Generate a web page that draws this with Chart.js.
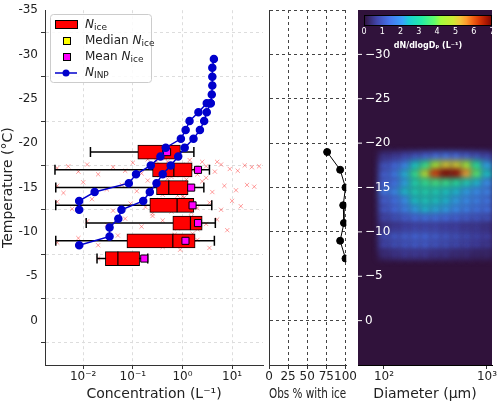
<!DOCTYPE html>
<html>
<head>
<meta charset="utf-8">
<script src="https://cdn.jsdelivr.net/npm/chart.js@4/dist/chart.umd.min.js"></script>
<style>
  body { margin: 0; background: #fff; }
  #wrap { position: relative; width: 500px; height: 403px; }
  canvas { position: absolute; top: 0; }
</style>
</head>
<body>
<div id="wrap">
  <canvas id="concChart" width="269" height="403" style="left:0"></canvas>
  <canvas id="obsChart" width="99" height="403" style="left:259px"></canvas>
  <canvas id="sizeChart" width="152" height="403" style="left:348px"></canvas>
</div>
<script>
// box statistics per temperature level (L^-1)
const boxTemps   = [-19, -17, -15, -13, -11, -9, -7];
const whiskerLow = [0.014, 0.0027, 0.0028, 0.0028, 0.0115, 0.0028, 0.019];
const q1         = [0.126, 0.25, 0.30, 0.22, 0.64, 0.076, 0.028];
const q3         = [0.91, 1.57, 1.30, 1.70, 2.50, 1.80, 0.137];
const whiskerHigh= [1.7, 3.5, 2.7, 3.9, 4.6, 4.4, 0.20];
const medianLine = [0.40, 0.67, 0.53, 0.78, 1.45, 0.64, 0.05];
const medianIce  = [0.26, 0.67, 0.53, 0.78, 1.45, 0.64, 0.05];
const meanIce    = [0.49, 2.06, 1.50, 1.60, 2.06, 1.15, 0.17];

// INP curves
const inpTempA = [-8.5, -9.5, -10.5, -11.5, -12.5, -13.5, -14.5, -15.5, -16.5, -17.5, -18.5, -19.5, -20.5, -21.5, -22.5, -23.5, -24.5, -25.5, -26.5, -27.5, -28.5, -29.5];
const inpConcA = [0.0083, 0.034, 0.034, 0.051, 0.059, 0.162, 0.22, 0.30, 0.40, 0.58, 0.82, 1.11, 1.67, 2.25, 2.74, 3.09, 3.7, 3.9, 4.0, 4.0, 4.0, 4.3];
const inpTempB = [-12.5, -13.5, -14.5, -15.5, -16.5, -17.5, -18.5, -19.5, -20.5, -21.5, -22.5, -23.5, -24.5, -24.5];
const inpConcB = [0.0083, 0.0083, 0.017, 0.083, 0.116, 0.23, 0.36, 0.46, 0.93, 1.16, 1.39, 2.1, 3.09, 3.7];

// individual Nice observations [conc, temp]
const iceObs = [
  [0.003,-17.2],[0.005,-17.4],[0.008,-16.8],[0.012,-17.6],[0.02,-16.5],[0.04,-17.3],[0.07,-16.9],[0.1,-17.8],
  [0.15,-16.6],[0.25,-17.5],[0.35,-16.4],[0.5,-17.9],[0.7,-16.7],[1.0,-17.2],[1.4,-18.1],[2,-16.5],[3,-17.4],
  [4.5,-16.8],[6,-17.6],[9,-17.1],[13,-16.9],[18,-17.5],[25,-17.3],[35,-17.4],[0.6,-16.2],[1.2,-17.6],[2.5,-17.9],
  [0.3,-18.0],[0.4,-17.0],[0.9,-16.4],[1.8,-17.0],[0.2,-18.2],[5,-17.9],[0.45,-18.3],
  [0.003,-15.2],[0.004,-14.4],[0.01,-15.6],[0.03,-14.8],[0.06,-15.3],[0.12,-14.6],[0.2,-15.8],[0.4,-14.2],
  [0.8,-15.5],[1.5,-14.9],[2.5,-15.7],[4,-14.5],[7,-15.2],[12,-14.7],[20,-15.3],[0.5,-16.0],[1.0,-14.0],[3,-16.1],
  [0.7,-14.6],[0.3,-15.4],[1.2,-15.9],[28,-15.1],
  [0.003,-13.4],[0.006,-12.6],[0.015,-13.7],[0.04,-12.4],[0.09,-13.2],[0.18,-12.8],[0.35,-13.6],[0.6,-12.3],
  [1.1,-13.9],[2,-12.7],[3.5,-13.3],[6,-12.5],[10,-13.5],[15,-12.9],[0.8,-14.1],[0.25,-12.1],[0.5,-13.0],[1.5,-12.2],
  [0.012,-11.2],[0.03,-10.8],[0.07,-11.5],[0.15,-10.6],[0.4,-11.3],[0.8,-10.4],[1.5,-11.7],[3,-10.9],[5,-11.4],
  [8,-10.2],[0.25,-11.8],[2,-10.3],[1.0,-11.0],
  [0.003,-8.8],[0.008,-9.3],[0.02,-8.5],[0.05,-9.6],[0.1,-8.9],[0.2,-9.4],[0.4,-8.3],[0.7,-9.7],[1.2,-8.6],
  [2,-9.1],[3.5,-8.2],[0.9,-8.0],[1.6,-9.8],
  [0.02,-7.0],[0.05,-6.8],[0.1,-7.2],[0.17,-6.9]
];

// percentage of observations with ice
const obsTemps = [-19, -17, -15, -13, -11, -9, -7];
const obsPct   = [76, 93, 100, 97, 98, 93, 100];

// size distribution dN/dlogDp, rows = temperatures, cols = log10 diameter bins
const sizeTemps = [-18.5, -17.5, -16.5, -15.5, -14.5, -13.5, -12.5, -11.5, -10.5, -9.5, -8.5, -7.5];
const sizeLogD  = [2.0, 2.1, 2.2, 2.3, 2.4, 2.5, 2.6, 2.7, 2.8, 2.9, 3.0];
const sizeDist = [
  [0.5,0.6,0.8,1.0,1.2,1.4,1.5,1.4,1.2,1.0,0.8],
  [1.0,1.3,1.8,2.5,3.3,4.2,5.0,5.0,4.3,3.2,2.2],
  [1.2,1.6,2.3,3.3,4.6,6.2,6.9,6.8,5.5,3.8,2.5],
  [1.3,1.5,2.2,2.9,3.3,3.5,3.4,3.2,2.8,2.4,2.0],
  [1.6,1.9,2.4,2.8,2.9,2.8,2.6,2.4,2.2,2.0,1.8],
  [1.2,1.5,2.0,2.5,2.7,2.6,2.4,2.2,2.0,1.8,1.6],
  [1.1,1.4,1.8,2.2,2.4,2.3,2.2,2.0,1.8,1.6,1.5],
  [0.8,1.0,1.2,1.4,1.5,1.5,1.4,1.3,1.2,1.1,1.0],
  [0.5,0.6,0.7,0.8,0.8,0.8,0.7,0.7,0.6,0.6,0.5],
  [0.9,1.1,1.2,1.3,1.3,1.2,1.1,1.0,0.9,0.8,0.7],
  [0.8,1.0,1.1,1.2,1.2,1.1,1.0,0.9,0.8,0.7,0.6],
  [0.4,0.5,0.6,0.6,0.6,0.5,0.5,0.4,0.4,0.3,0.3]
];
const colorbarTicks = [0, 1, 2, 3, 4, 5, 6, 7];

const FONT = 'DejaVu Sans';
Chart.defaults.font.family = FONT;
Chart.defaults.color = '#222';
const sup = { '-': '\u207B', '0': '\u2070', '1': '\u00B9', '2': '\u00B2', '3': '\u00B3' };
const pow10Label = v => {
  const e = Math.round(Math.log10(v));
  if (Math.abs(Math.log10(v) - e) > 1e-6) return '';
  return '10' + String(e).split('').map(c => sup[c]).join('');
};
const keepPowers = scale => {
  scale.ticks = scale.ticks.filter(t => Math.abs(Math.log10(t.value) - Math.round(Math.log10(t.value))) < 1e-6);
};

const tempAxis = (extra) => Object.assign({
  type: 'linear', min: -35, max: 5, reverse: true, offset: false,
  afterBuildTicks: s => { s.ticks = [-35, -30, -25, -20, -15, -10, -5, 0, 5].map(v => ({ value: v })); },
  afterFit: s => { s.width = 0; }
}, extra);
const bottomFit = s => { s.height = 38; };

// turbo colormap
const turboStops = [
  [0, [48,18,59]], [0.1, [65,69,171]], [0.2, [70,117,237]], [0.3, [57,162,252]], [0.35, [27,207,212]],
  [0.45, [36,236,166]], [0.55, [97,252,108]], [0.6, [164,252,59]], [0.7, [209,232,52]], [0.75, [243,198,58]],
  [0.8, [254,155,45]], [0.85, [243,99,21]], [0.9, [217,56,6]], [0.95, [177,25,1]], [1, [122,4,3]]
];
function turbo(t) {
  t = Math.max(0, Math.min(1, t));
  for (let i = 1; i < turboStops.length; i++) {
    if (t <= turboStops[i][0]) {
      const [t0, c0] = turboStops[i - 1], [t1, c1] = turboStops[i];
      const f = (t - t0) / (t1 - t0);
      return 'rgb(' + c0.map((c, k) => Math.round(c + (c1[k] - c) * f)).join(',') + ')';
    }
  }
  return 'rgb(122,4,3)';
}

function richText(ctx, parts, x, y) {
  ctx.textBaseline = 'middle';
  ctx.textAlign = 'left';
  for (const [txt, font, dy] of parts) {
    ctx.font = font;
    ctx.fillText(txt, x, y + dy);
    x += ctx.measureText(txt).width;
  }
}

// whiskers, median lines and legend for the concentration panel
const boxPlugin = {
  id: 'boxExtras',
  beforeDatasetDraw(chart, args) {
    if (args.index !== 3) return;
    const { ctx, scales: { x, y } } = chart;
    ctx.save();
    ctx.strokeStyle = '#000';
    ctx.lineWidth = 1.5;
    boxTemps.forEach((t, i) => {
      const py = y.getPixelForValue(t);
      const a = x.getPixelForValue(whiskerLow[i]), b = x.getPixelForValue(whiskerHigh[i]);
      ctx.beginPath();
      ctx.moveTo(a, py); ctx.lineTo(b, py);
      ctx.moveTo(a, py - 5); ctx.lineTo(a, py + 5);
      ctx.moveTo(b, py - 5); ctx.lineTo(b, py + 5);
      ctx.stroke();
    });
    ctx.restore();
  },
  afterDatasetDraw(chart, args) {
    if (args.index !== 3) return;
    const { ctx, scales: { x, y } } = chart;
    ctx.save();
    ctx.strokeStyle = '#000';
    ctx.lineWidth = 1.2;
    boxTemps.forEach((t, i) => {
      const py = y.getPixelForValue(t), px = x.getPixelForValue(medianLine[i]);
      ctx.beginPath(); ctx.moveTo(px, py - 7); ctx.lineTo(px, py + 7); ctx.stroke();
    });
    ctx.restore();
  },
  afterDraw(chart) {
    const { ctx } = chart;
    ctx.save();
    ctx.fillStyle = 'rgba(255,255,255,0.85)';
    ctx.strokeStyle = '#ccc';
    ctx.beginPath(); ctx.roundRect(50.5, 14.5, 101, 68, 3); ctx.fill(); ctx.stroke();
    ctx.fillStyle = '#f00'; ctx.strokeStyle = '#000'; ctx.lineWidth = 1;
    ctx.fillRect(55, 20, 22, 8); ctx.strokeRect(55.5, 20.5, 22, 8);
    ctx.fillStyle = '#ff0'; ctx.fillRect(63, 37, 7, 7); ctx.strokeRect(63.5, 37.5, 7, 7);
    ctx.fillStyle = '#f0f'; ctx.fillRect(63, 53, 7, 7); ctx.strokeRect(63.5, 53.5, 7, 7);
    ctx.strokeStyle = '#00c'; ctx.lineWidth = 1.5;
    ctx.beginPath(); ctx.moveTo(55, 73); ctx.lineTo(77, 73); ctx.stroke();
    ctx.fillStyle = '#00c'; ctx.beginPath(); ctx.arc(66, 73, 3.5, 0, Math.PI * 2); ctx.fill();
    ctx.fillStyle = '#222';
    const it = 'italic 12px ' + FONT, rg = '12px ' + FONT, sb = '9px ' + FONT;
    richText(ctx, [['N', it, 0], ['ice', sb, 3]], 85, 25);
    richText(ctx, [['Median ', rg, 0], ['N', it, 0], ['ice', sb, 3]], 85, 41);
    richText(ctx, [['Mean ', rg, 0], ['N', it, 0], ['ice', sb, 3]], 85, 57);
    richText(ctx, [['N', it, 0], ['INP', sb, 3]], 85, 73);
    ctx.restore();
  }
};

const xTicks = { font: { size: 12 }, maxRotation: 0, autoSkip: false, padding: 1 };

new Chart(document.getElementById('concChart'), {
  type: 'scatter',
  data: {
    datasets: [
      { type: 'line', data: inpConcA.map((v, i) => ({ x: v, y: inpTempA[i] })), borderColor: '#0000cc',
        backgroundColor: '#0000cc', borderWidth: 1.5, pointRadius: 3.5, tension: 0 },
      { type: 'line', data: inpConcB.map((v, i) => ({ x: v, y: inpTempB[i] })), borderColor: '#0000cc',
        backgroundColor: '#0000cc', borderWidth: 1.5, pointRadius: 3.5, tension: 0 },
      { data: meanIce.map((v, i) => ({ x: v, y: boxTemps[i] })), pointStyle: 'rect', pointRadius: 5,
        backgroundColor: '#ff00ff', borderColor: '#000', borderWidth: 1 },
      { type: 'bar', indexAxis: 'y', data: q1.map((v, i) => ({ x: [v, q3[i]], y: boxTemps[i] })),
        backgroundColor: '#ff0000', borderColor: '#000', borderWidth: 1, borderSkipped: false, barThickness: 14 },
      { data: medianIce.map((v, i) => ({ x: v, y: boxTemps[i] })), pointStyle: 'rect', pointRadius: 5,
        backgroundColor: '#ffff00', borderColor: '#000', borderWidth: 1 },
      { data: iceObs.map(p => ({ x: p[0], y: p[1] })), pointStyle: 'crossRot', pointRadius: 3,
        borderColor: 'rgba(255,40,40,0.45)', borderWidth: 1 }
    ]
  },
  options: {
    responsive: false, animation: false,
    layout: { padding: { top: 10, right: 0, left: 0 } },
    plugins: { legend: { display: false }, tooltip: { enabled: false } },
    scales: {
      x: {
        type: 'logarithmic', min: 0.0017, max: 42,
        afterBuildTicks: keepPowers, afterFit: bottomFit,
        ticks: { callback: pow10Label, ...xTicks },
        grid: { color: '#ddd', tickColor: '#333', tickLength: 4 },
        border: { color: '#333', dash: [3, 3] },
        title: { display: true, text: 'Concentration (L\u207B\u00B9)', font: { size: 14 }, padding: 0 }
      },
      y: tempAxis({
        afterFit: s => { s.width = 45; },
        ticks: { font: { size: 12 }, callback: v => v === 5 ? '' : String(v) },
        grid: { color: '#ddd', tickColor: '#333', tickLength: 4 },
        border: { color: '#333', dash: [3, 3] },
        title: { display: true, text: 'Temperature (\u00B0C)', font: { size: 14 }, padding: 0 }
      })
    }
  },
  plugins: [boxPlugin]
});

new Chart(document.getElementById('obsChart'), {
  type: 'scatter',
  data: {
    datasets: [{
      data: obsPct.map((v, i) => ({ x: v, y: obsTemps[i] })), showLine: true,
      borderColor: '#000', backgroundColor: '#000', borderWidth: 1, pointRadius: 3.5
    }]
  },
  options: {
    responsive: false, animation: false,
    layout: { padding: { top: 10, left: 10, right: 0 } },
    plugins: { legend: { display: false }, tooltip: { enabled: false } },
    scales: {
      x: {
        min: 0, max: 101, afterFit: bottomFit,
        afterBuildTicks: s => { s.ticks = [0, 25, 50, 75, 100].map(v => ({ value: v })); },
        ticks: xTicks,
        grid: { color: '#444', tickColor: '#333', tickLength: 4 },
        border: { color: '#333', dash: [3, 3] },
        title: { display: true, text: 'Obs % with ice', font: { size: 14 }, padding: 0 }
      },
      y: tempAxis({
        ticks: { display: false },
        grid: { color: '#444', tickLength: 0 },
        border: { color: '#333', dash: [3, 3] }
      })
    }
  }
});

const heatPlugin = {
  id: 'heat',
  beforeDatasetsDraw(chart) {
    const { ctx, chartArea: a, scales: { x, y } } = chart;
    ctx.save();
    ctx.fillStyle = turbo(0);
    ctx.fillRect(a.left, a.top, a.right - a.left, a.bottom - a.top);
    ctx.beginPath(); ctx.rect(a.left, a.top, a.right - a.left, a.bottom - a.top); ctx.clip();
    ctx.filter = 'blur(3px)';
    sizeTemps.forEach((t, r) => {
      const y0 = y.getPixelForValue(t - 0.5), y1 = y.getPixelForValue(t + 0.5);
      sizeLogD.forEach((d, c) => {
        const x0 = x.getPixelForValue(Math.pow(10, d - 0.05)), x1 = x.getPixelForValue(Math.pow(10, d + 0.05));
        ctx.fillStyle = turbo(sizeDist[r][c] / 7);
        ctx.fillRect(x0, Math.min(y0, y1), x1 - x0 + 0.5, Math.abs(y1 - y0) + 0.5);
      });
    });
    ctx.filter = 'none';
    // white temperature labels on the left edge
    ctx.fillStyle = '#fff'; ctx.strokeStyle = '#fff'; ctx.lineWidth = 1;
    ctx.font = '12px ' + FONT; ctx.textBaseline = 'middle'; ctx.textAlign = 'left';
    [-30, -25, -20, -15, -10, -5, 0].forEach(v => {
      const py = y.getPixelForValue(v);
      ctx.beginPath(); ctx.moveTo(a.left, py); ctx.lineTo(a.left + 4, py); ctx.stroke();
      ctx.fillText(v === 0 ? '0' : '\u2212' + Math.abs(v), a.left + 7, py);
    });
    // colorbar
    const cx0 = a.left + 6, cx1 = a.right, cy0 = 15, cy1 = 25;
    const g = ctx.createLinearGradient(cx0, 0, cx1, 0);
    turboStops.forEach(([t, c]) => g.addColorStop(t, 'rgb(' + c.join(',') + ')'));
    ctx.fillStyle = g; ctx.fillRect(cx0, cy0, cx1 - cx0, cy1 - cy0);
    ctx.strokeStyle = '#000'; ctx.strokeRect(cx0 + 0.5, cy0 + 0.5, cx1 - cx0 - 1, cy1 - cy0);
    ctx.fillStyle = '#fff'; ctx.textAlign = 'center'; ctx.font = '8px ' + FONT;
    colorbarTicks.forEach(v => ctx.fillText(String(v), cx0 + (cx1 - cx0) * v / 7, 32));
    ctx.font = 'bold 8px ' + FONT;
    ctx.fillText('dN/dlogD\u209A (L\u207B\u00B9)', (cx0 + cx1) / 2, 46);
    ctx.restore();
  }
};

new Chart(document.getElementById('sizeChart'), {
  type: 'scatter',
  data: { datasets: [{ data: [] }] },
  options: {
    responsive: false, animation: false,
    layout: { padding: { top: 10, left: 10, right: 8 } },
    plugins: { legend: { display: false }, tooltip: { enabled: false } },
    scales: {
      x: {
        type: 'logarithmic', min: 56, max: 1120,
        afterBuildTicks: keepPowers, afterFit: bottomFit,
        ticks: { callback: pow10Label, ...xTicks },
        grid: { display: true, drawOnChartArea: false, tickColor: '#333', tickLength: 4 },
        border: { color: '#000' },
        title: { display: true, text: 'Diameter (\u00B5m)', font: { size: 14 }, padding: 0 }
      },
      y: tempAxis({ ticks: { display: false }, grid: { display: false }, border: { color: '#000' } })
    }
  },
  plugins: [heatPlugin]
});
</script>
</body>
</html>
